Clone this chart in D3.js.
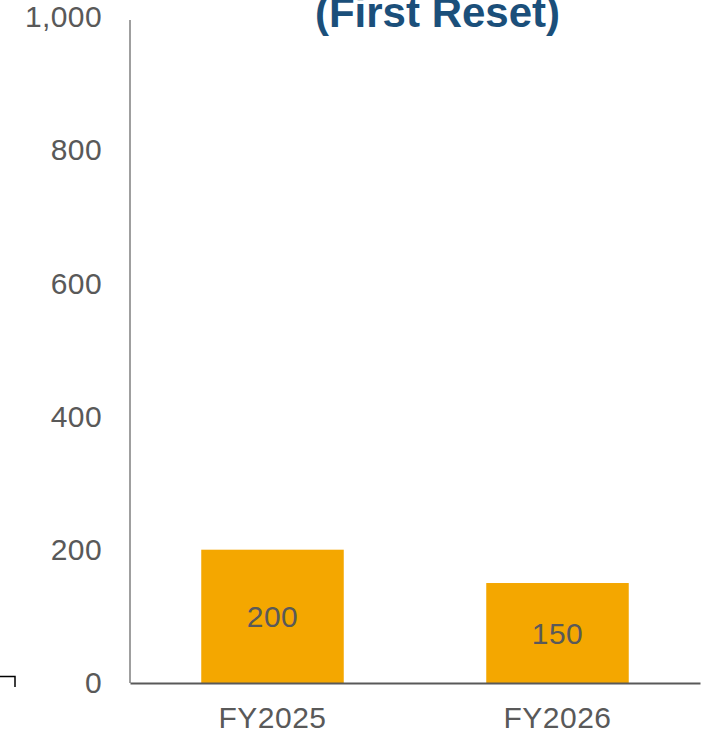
<!DOCTYPE html>
<html>
<head>
<meta charset="utf-8">
<script src="https://cdn.jsdelivr.net/npm/d3@7/dist/d3.min.js"></script>
<style>
  html, body { margin: 0; padding: 0; background: #fff; }
  svg { display: block; font-family: Arial, "Liberation Sans", sans-serif; }
</style>
</head>
<body>
<svg id="chart" width="710" height="736"></svg>
<script>
const categories = ["FY2025", "FY2026"];
const values = [200, 150];
const yTicks = [0, 200, 400, 600, 800, 1000];
const title = "(First Reset)";

(function () {
const svg = d3.select("#chart");
const mLeft = 130, mRight = 700, mTop = 16.5, mBottom = 683;

const x = d3.scaleBand().domain(categories).range([mLeft, mRight])
  .paddingInner(0.5).paddingOuter(0.25);
const y = d3.scaleLinear().domain([0, 1000]).range([mBottom, mTop]);

const textColor = "#595959";
const fontFam = "Arial, 'Liberation Sans', sans-serif";

// bars
svg.selectAll("rect.bar").data(values).enter().append("rect")
  .attr("class", "bar")
  .attr("x", (d, i) => x(categories[i]))
  .attr("width", x.bandwidth())
  .attr("y", d => y(d))
  .attr("height", d => y(0) - y(d))
  .attr("fill", "#F4A700");

// bar labels
svg.selectAll("text.val").data(values).enter().append("text")
  .attr("class", "val")
  .attr("x", (d, i) => x(categories[i]) + x.bandwidth() / 2)
  .attr("y", d => (y(d) + y(0)) / 2)
  .attr("dy", "0.36em")
  .attr("text-anchor", "middle")
  .attr("font-size", 30)
  .attr("letter-spacing", 0.4)
  .attr("fill", textColor)
  .text(d => d);

// y axis
const yAxis = d3.axisLeft(y).tickValues(yTicks).tickSize(0).tickPadding(28)
  .tickFormat(d3.format(","));
const gy = svg.append("g").attr("transform", `translate(${mLeft},0)`).call(yAxis);
gy.select(".domain").attr("d", `M0,20V${mBottom}`)
  .attr("stroke", "#7f7f7f").attr("stroke-width", 1.5);
gy.selectAll("text").attr("font-size", 30).attr("fill", textColor)
  .attr("letter-spacing", 0.4)
  .attr("font-family", fontFam).attr("dy", "0.33em");

// x axis
const xAxis = d3.axisBottom(x).tickSize(0).tickPadding(24);
const gx = svg.append("g").attr("transform", `translate(0,${mBottom})`).call(xAxis);
gx.select(".domain").attr("stroke", "#595959").attr("stroke-width", 2);
gx.selectAll("text").attr("font-size", 30).attr("fill", textColor)
  .attr("letter-spacing", 0.5)
  .attr("font-family", fontFam).attr("dy", "0.71em");

// title
svg.append("text")
  .attr("x", 437.5).attr("y", 27)
  .attr("text-anchor", "middle")
  .attr("font-size", 42).attr("font-weight", "bold")
  .attr("fill", "#1B4F7A")
  .text(title);

// small corner mark at bottom left
svg.append("path")
  .attr("d", "M0,676.5H15V687")
  .attr("fill", "none").attr("stroke", "#000").attr("stroke-width", 1.5);
})();
</script>
</body>
</html>
